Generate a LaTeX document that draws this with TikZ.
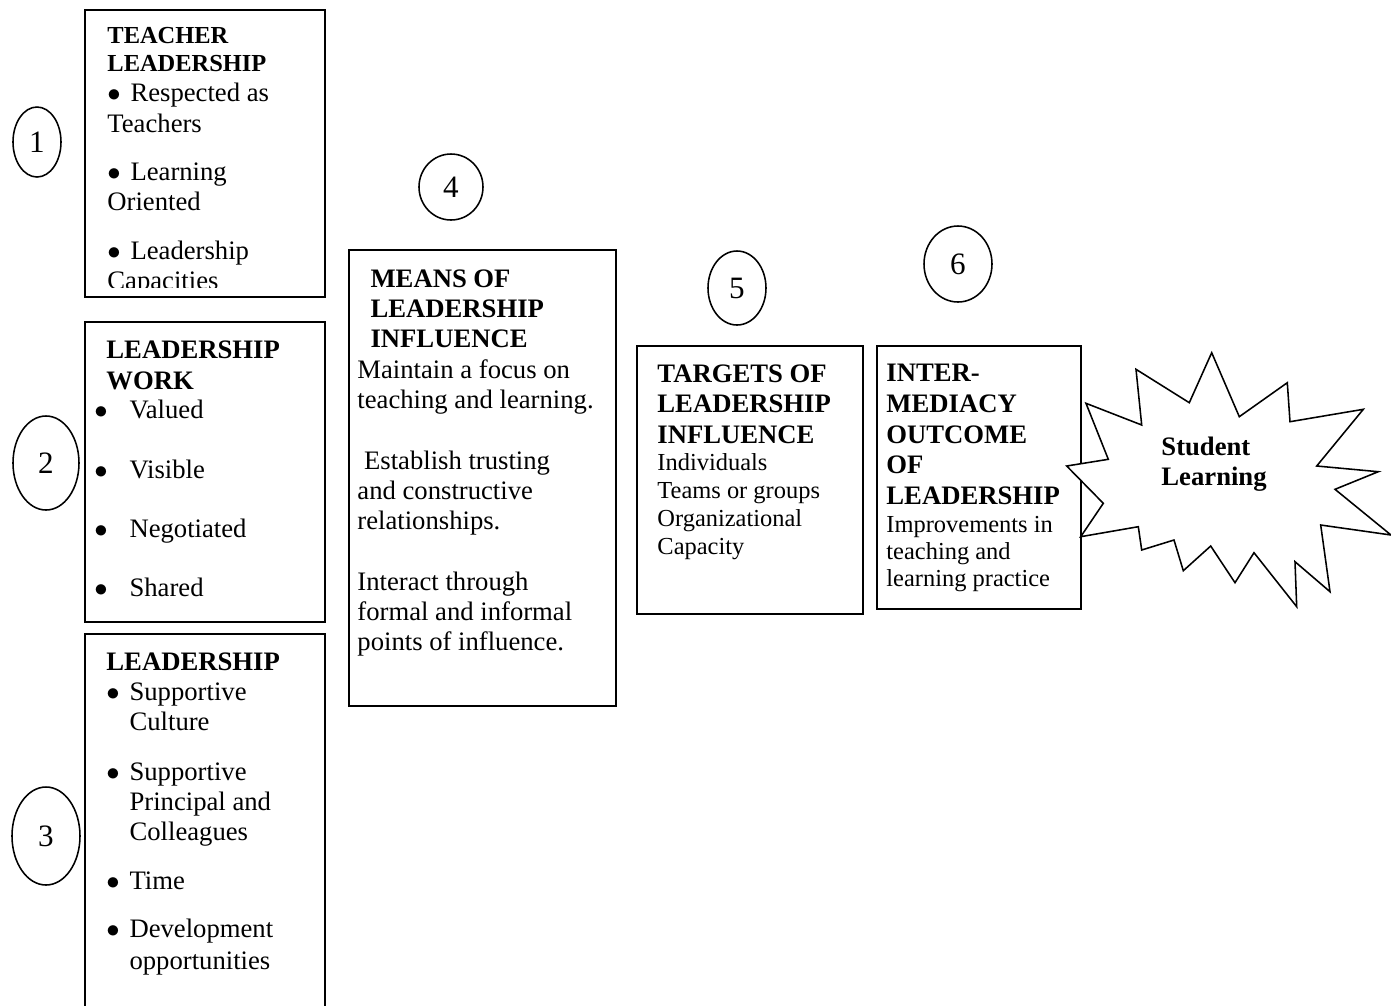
\documentclass[tikz,border=0pt]{standalone}
\usepackage{fontspec}
\setmainfont{Liberation Serif}
\usetikzlibrary{shapes.geometric,fit,positioning}

% heading and list helpers
\newcommand{\hd}{\bfseries}
\newcommand{\smallhd}{\fontsize{11}{12.6}\selectfont\bfseries}
\newcommand{\smalltx}{\fontsize{11}{12.6}\selectfont}
\newcommand{\bul}{\makebox[10.4pt][l]{$\bullet$}}
\newcommand{\wbul}{\makebox[15.8pt][l]{$\bullet$}}

\begin{document}
\begin{tikzpicture}[x=0.45pt,y=-0.45pt,
    box/.style={draw,line width=0.9pt,inner sep=0pt},
    num/.style={draw,ellipse,line width=0.7pt,inner sep=0pt,font=\fontsize{14}{16}\selectfont},
    txt/.style={anchor=north west,inner sep=0pt,align=left,font=\fontsize{12}{13.8}\selectfont},
    burst/.style={draw,fill=white,line width=0.7pt,line join=miter}]
  \useasboundingbox (0,0) rectangle (1391,1005);

  % the three boxes on the left
  \node[box,fit={(85,10) (325,297)}] (teacher) {};
  \node[box,fit={(85,322) (325,622)}] (work) {};
  \node[box,fit={(85,634) (325,1020)}] (support) {};

  \begin{scope}
    \clip (85,10) rectangle (325,287);
    \node[txt] (teachertxt) at (107,27) {\smallhd TEACHER\\[-1.2pt]
      \smallhd LEADERSHIP\\[-0.3pt]
      \bul Respected as\\
      Teachers\\[7.8pt]
      \bul Learning\\[-0.3pt]
      Oriented\\[8.2pt]
      \bul Leadership\\[-0.3pt]
      Capacities};
  \end{scope}

  \node[txt] (worktxt) at (94,340) {\hspace{5.4pt}\hd LEADERSHIP\\[0.15pt]
    \hspace{5.4pt}\hd WORK\\[-0.75pt]
    \wbul Valued\\[13.2pt]
    \wbul Visible\\[12.8pt]
    \wbul Negotiated\\[12.8pt]
    \wbul Shared};

  \node[txt] (supporttxt) at (106,652) {\hd LEADERSHIP\\[-0.3pt]
    \bul Supportive\\[-0.3pt]
    \hspace{10.4pt}Culture\\[8.7pt]
    \bul Supportive\\[-0.3pt]
    \hspace{10.4pt}Principal and\\[-0.3pt]
    \hspace{10.4pt}Colleagues\\[8.2pt]
    \bul Time\\[8.2pt]
    \bul Development\\[0.2pt]
    \hspace{10.4pt}opportunities};

  % means of influence
  \node[box,fit={(349,250) (616,706)}] (means) {};
  \node[txt,font=\fontsize{12}{13.6}\selectfont] (meanstxt) at (357,269) {\hspace{5.9pt}\hd MEANS OF\\
    \hspace{5.9pt}\hd LEADERSHIP\\
    \hspace{5.9pt}\hd INFLUENCE\\[0.4pt]
    Maintain a focus on\\
    teaching and learning.\\[13.6pt]
    \hspace{3pt}Establish trusting\\
    and constructive\\
    relationships.\\[13.6pt]
    Interact through\\
    formal and informal\\
    points of influence.};

  % targets and outcome
  \node[box,fit={(637,346) (863,614)}] (targets) {};
  \node[txt,font=\fontsize{12}{13.6}\selectfont] (targetstxt) at (657,364) {\hd TARGETS OF\\
    \hd LEADERSHIP\\[0.4pt]
    \hd INFLUENCE\\[-1.4pt]
    \smalltx Individuals\\[-1pt]
    \smalltx Teams or groups\\[-1pt]
    \smalltx Organizational\\[-1pt]
    \smalltx Capacity};

  \node[box,fit={(877,346) (1081,609)}] (outcome) {};
  \node[txt,font=\fontsize{12}{13.6}\selectfont] (outcometxt) at (886,364) {\hd INTER-\\
    \hd MEDIACY\\[0.4pt]
    \hd OUTCOME\\
    \hd OF\\[0.4pt]
    \hd LEADERSHIP\\[-1pt]
    \smalltx Improvements in\\[-1.4pt]
    \smalltx teaching and\\[-1.4pt]
    \smalltx learning practice};

  % explosion shape
  \draw[burst] (1066.7,466) -- (1108.3,459.3) -- (1086,403.3) -- (1141.7,425)
    -- (1136,369.3) -- (1189.3,402.7) -- (1211.7,352.7) -- (1239.3,416.7)
    -- (1287.3,382.7) -- (1290,421.7) -- (1363.3,409.3) -- (1316.7,466)
    -- (1378.3,471.7) -- (1335,489.3) -- (1391,535) -- (1320.7,525)
    -- (1330,591.7) -- (1295,561.7) -- (1296.7,606.7) -- (1254,552.7)
    -- (1235,582.7) -- (1210.7,546) -- (1183.3,570.7) -- (1174,540)
    -- (1141.7,550) -- (1138.3,526.7) -- (1080.7,536.7) -- (1103.3,503.3)
    -- cycle;
  \node[txt] (learning) at (1161,437) {\hd Student\\[-0.4pt]
    \hd Learning};

  % step numbers
  \node[num,minimum width=48*0.45pt,minimum height=70*0.45pt] (n1) at (37,142) {1};
  \node[num,minimum width=66*0.45pt,minimum height=94*0.45pt] (n2) at (46,463) {2};
  \node[num,minimum width=68*0.45pt,minimum height=98*0.45pt] (n3) at (46,836) {3};
  \node[num,minimum width=64*0.45pt,minimum height=66*0.45pt] (n4) at (451,187) {4};
  \node[num,minimum width=58*0.45pt,minimum height=74*0.45pt] (n5) at (737,288) {5};
  \node[num,minimum width=68*0.45pt,minimum height=76*0.45pt] (n6) at (958,264) {6};
\end{tikzpicture}
\end{document}
